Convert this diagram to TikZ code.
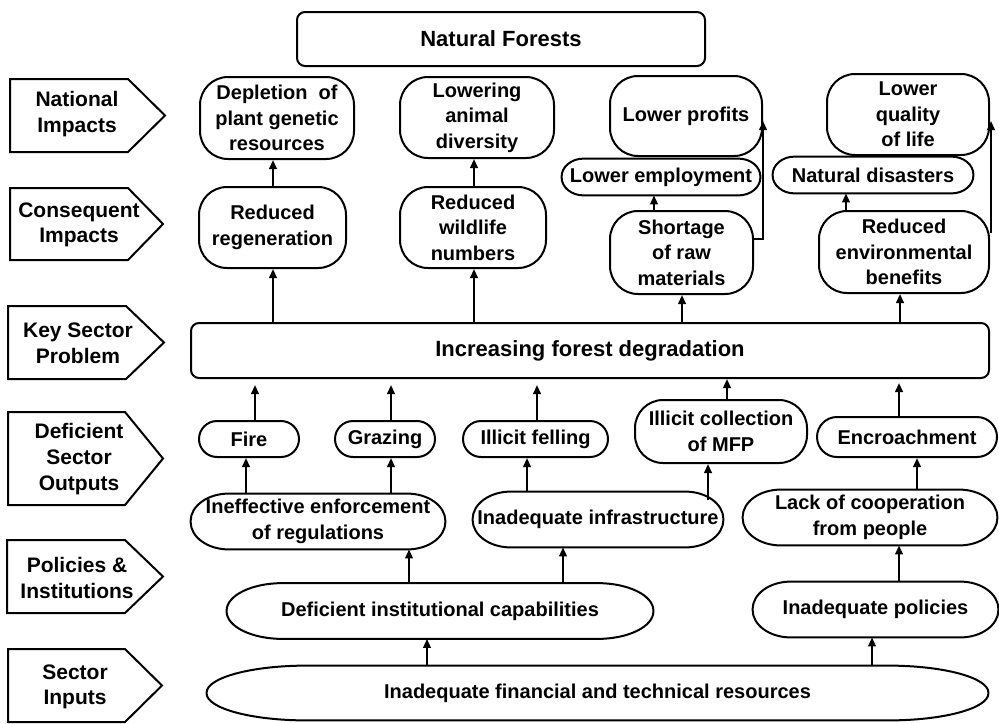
\documentclass[tikz,border=0pt]{standalone}
\usepackage{fontspec}
\setmainfont{Liberation Sans}
\usetikzlibrary{arrows.meta,calc}

% text sizes
\newcommand\dgBoxFont{\fontsize{10}{12.8}\selectfont\bfseries}
\newcommand\dgTagFont{\fontsize{10.5}{12.8}\selectfont\bfseries}
\newcommand\dgHeadFont{\fontsize{11}{13}\selectfont\bfseries}

\tikzset{
  frame/.style={line width=1pt, draw=black},
  box/.style={frame, rounded corners=#1, align=center, inner sep=0pt, font=\dgBoxFont},
  box/.default=14pt,
  ovaltext/.style={align=center, inner sep=0pt, font=\dgBoxFont},
  tagtext/.style={align=center, inner sep=0pt, font=\dgTagFont},
  tagshape/.style={frame, line join=miter},
  arr/.style={line width=1pt, -{Triangle[length=4.5pt,width=3.8pt]}},
}

% oval outline with elliptical ends around a node: #1 node, #2 x radius, #3 y radius
\newcommand\ovalframe[3]{%
  \draw[frame] ($(#1.north west)+(#2,0)$) -- ($(#1.north east)+(-#2,0)$)
    arc[start angle=90,end angle=0,x radius=#2,y radius=#3]
    -- ($(#1.south east)+(0,#3)$)
    arc[start angle=0,end angle=-90,x radius=#2,y radius=#3]
    -- ($(#1.south west)+(#2,0)$)
    arc[start angle=270,end angle=180,x radius=#2,y radius=#3]
    -- ($(#1.north west)+(0,-#3)$)
    arc[start angle=180,end angle=90,x radius=#2,y radius=#3] -- cycle;}

\begin{document}
\begin{tikzpicture}[x=0.5pt,y=-0.5pt]
\useasboundingbox (0,0) rectangle (999,723);
\fill[white] (0,0) rectangle (999,723);

% ---- level tags on the left ----
\draw[tagshape] (10,79) -- (128,79) -- (165,115.5) -- (128,152) -- (10,152) -- cycle;
\node[tagtext] (tagA) at (77,114) {National\\Impacts};
\draw[tagshape] (10,188) -- (128,188) -- (163,224) -- (128,260) -- (10,260) -- cycle;
\node[tagtext] (tagB) at (79,225) {Consequent\\Impacts};
\draw[tagshape] (8,306) -- (126,306) -- (164,342.5) -- (126,379) -- (8,379) -- cycle;
\node[tagtext] (tagC) at (78,343) {Key Sector\\Problem};
\draw[tagshape] (8,412) -- (125,412) -- (163,458.5) -- (125,505) -- (8,505) -- cycle;
\node[tagtext] (tagD) at (79,459) {Deficient\\Sector\\Outputs};
\draw[tagshape] (7,540) -- (125,540) -- (163,576.5) -- (125,613) -- (7,613) -- cycle;
\node[tagtext] (tagE) at (77,578) {Policies \&\\Institutions};
\draw[tagshape] (8,649) -- (125,649) -- (162,685.5) -- (125,722) -- (8,722) -- cycle;
\node[tagtext] (tagF) at (75,687) {Sector\\Inputs};

% ---- top ----
\node[box=4pt, font=\dgHeadFont, minimum width=204pt, minimum height=27pt] (forest) at (501,39) {Natural Forests};

% ---- national impacts ----
\node[box, minimum width=77pt, minimum height=41pt] (dep) at (277,118) {Depletion\ \ of\\plant genetic\\resources};
\node[box, minimum width=77pt, minimum height=40.5pt] (low) at (477,117.5) {Lowering\\animal\\diversity};
\node[box, minimum width=76pt, minimum height=40pt] (prof) at (686,116) {Lower profits};
\node[box, minimum width=81pt, minimum height=40.5pt] (qual) at (908,114.5) {Lower\\quality\\of life};

% ---- consequent impacts ----
\node[box, minimum width=73.5pt, minimum height=40.5pt] (regen) at (272.5,227.5) {Reduced\\regeneration};
\node[box, minimum width=73pt, minimum height=40.5pt] (wild) at (473,227.5) {Reduced\\wildlife\\numbers};
\node[ovaltext, minimum width=99pt, minimum height=18pt] (empl) at (661,177) {Lower employment};
\ovalframe{empl}{11pt}{9pt}
\node[ovaltext, minimum width=100pt, minimum height=18pt] (disas) at (873,175) {Natural disasters};
\ovalframe{disas}{11pt}{9pt}
\node[box, minimum width=71.5pt, minimum height=41.5pt] (short) at (681.5,252.5) {Shortage\\of raw\\materials};
\node[box, minimum width=85pt, minimum height=41pt] (env) at (904,252) {Reduced\\environmental\\benefits};

% ---- key sector problem ----
\node[box=4pt, font=\dgHeadFont, minimum width=399pt, minimum height=27.5pt] (degr) at (590,350.5) {Increasing forest degradation};

% ---- deficient sector outputs ----
\node[box=9pt, minimum width=50pt, minimum height=18pt] (fire) at (249,439) {Fire};
\node[box=9pt, minimum width=50pt, minimum height=18pt] (graz) at (385,439) {Grazing};
\node[box=9pt, minimum width=72.5pt, minimum height=18pt] (fell) at (535.5,439) {Illicit felling};
\node[box=14pt, minimum width=86pt, minimum height=31.5pt] (mfp) at (721,431.5) {Illicit collection\\of MFP};
\node[box=10pt, minimum width=90pt, minimum height=20pt] (encr) at (907,437) {Encroachment};

% ---- policies and institutions ----
\node[ovaltext, minimum width=127pt, minimum height=27.5pt] (ineff) at (318,521.5) {Ineffective enforcement\\of regulations};
\ovalframe{ineff}{19pt}{13.75pt}
\node[ovaltext, minimum width=125pt, minimum height=27.5pt] (infra) at (598,519.5) {Inadequate infrastructure};
\ovalframe{infra}{19pt}{13.75pt}
\node[ovaltext, minimum width=127pt, minimum height=27.5pt] (coop) at (870,517.5) {Lack of cooperation\\from people};
\ovalframe{coop}{19pt}{13.75pt}
\node[ovaltext, minimum width=213pt, minimum height=27.5pt] (inst) at (440,611) {Deficient institutional capabilities};
\ovalframe{inst}{28pt}{13.75pt}
\node[ovaltext, minimum width=122.5pt, minimum height=27.5pt] (pol) at (875.5,609.5) {Inadequate policies};
\ovalframe{pol}{19pt}{13.75pt}

% ---- sector inputs ----
\node[ovaltext, minimum width=390.5pt, minimum height=27pt] (fin) at (597.5,693) {Inadequate financial and technical resources};
\ovalframe{fin}{50pt}{13.5pt}

% ---- connectors ----
\draw[arr] (regen.north -| 273,0) -- (dep.south -| 273,0);
\draw[arr] (wild.north -| 474,0) -- (low.south -| 474,0);
\draw[arr] (short.north -| 654,0) -- (empl.south -| 654,0);
\draw[arr] (short.east |- 0,239) -| (prof.east |- 764,121);
\draw[arr] (env.north -| 846,0) -- (disas.south -| 846,0);
\draw[arr] ([xshift=0.5pt]env.east |- 0,233) -- ([xshift=0.5pt]qual.east |- 0,121);

\draw[arr] (degr.north -| 273,0) -- (regen.south -| 273,0);
\draw[arr] (degr.north -| 474,0) -- (wild.south -| 474,0);
\draw[arr] (degr.north -| 682,0) -- (short.south -| 682,0);
\draw[arr] (degr.north -| 900,0) -- (env.south -| 900,0);

\draw[arr, shorten >=3pt] (fire.north -| 255,0) -- (degr.south -| 255,0);
\draw[arr, shorten >=3pt] (graz.north -| 391,0) -- (degr.south -| 391,0);
\draw[arr, shorten >=3pt] (fell.north -| 537,0) -- (degr.south -| 537,0);
\draw[arr] (mfp.north -| 727,0) -- (degr.south -| 727,0);
\draw[arr, shorten >=2pt] (encr.north -| 899,0) -- (degr.south -| 899,0);

\draw[arr] (ineff.north -| 246,0) -- (fire.south -| 246,0);
\draw[arr] (ineff.north -| 391,0) -- (graz.south -| 391,0);
\draw[arr] (infra.north -| 527,0) -- (fell.south -| 527,0);
\draw[arr] ($(infra.north -| 708,0)+(0,-4pt)$) -- (mfp.south -| 708,0);
\draw[arr] (coop.north -| 917,0) -- (encr.south -| 917,0);

\draw[arr] (inst.north -| 409,0) -- (ineff.south -| 409,0);
\draw[arr] (inst.north -| 563,0) -- (infra.south -| 563,0);
\draw[arr] (pol.north -| 899,0) -- (coop.south -| 899,0);

\draw[arr] (fin.north -| 427,0) -- (inst.south -| 427,0);
\draw[arr] (fin.north -| 872,0) -- (pol.south -| 872,0);
\end{tikzpicture}
\end{document}
